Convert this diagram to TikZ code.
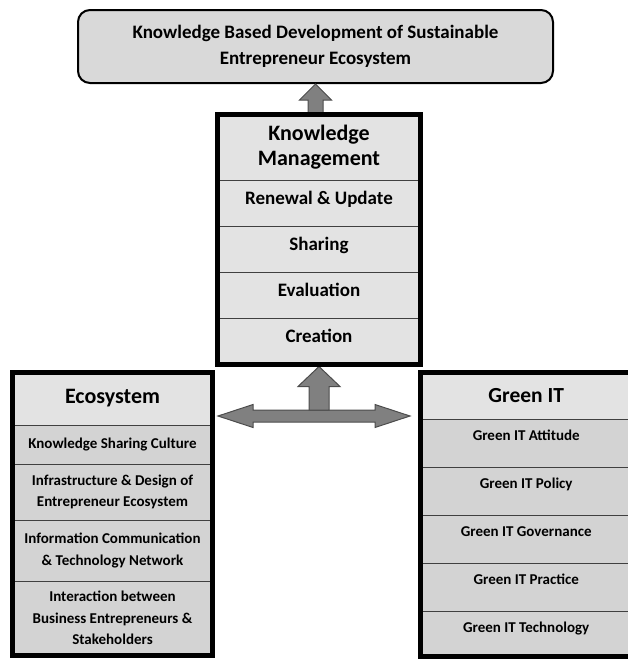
\documentclass[tikz,border=0pt]{standalone}
\usepackage{fontspec}
\setmainfont{Carlito}
\usetikzlibrary{positioning,calc}
\definecolor{boxgray}{HTML}{D9D9D9}
\definecolor{headgray}{HTML}{E3E3E3}
\definecolor{rowgray}{HTML}{D3D3D3}
\definecolor{arrowgray}{HTML}{808080}
\tikzset{
  cell/.style={draw=black!75, line width=0.8pt, inner sep=0pt, outer sep=0pt, align=center},
  kmrow/.style={cell, fill=headgray, minimum width=203pt, text height=24pt, text depth=22pt,
    font=\fontsize{19}{22}\selectfont\bfseries},
  ecorow/.style={cell, fill=rowgray, minimum width=200pt, minimum height=#1,
    font=\fontsize{15}{21.5}\selectfont\bfseries},
  greenrow/.style={cell, fill=rowgray, minimum width=211.5pt, text height=21pt, text depth=#1,
    font=\fontsize{15}{18}\selectfont\bfseries},
  frame/.style={draw=black, line width=5pt},
  blockarrow/.style={draw=black!70, fill=arrowgray, line width=1pt, line join=miter},
}
\begin{document}
\begin{tikzpicture}[x=1pt,y=-1pt,node distance=0pt]
\useasboundingbox (0,0) rectangle (627,659);

% goal on top
\node[draw, line width=2pt, rounded corners=12pt, fill=boxgray, minimum width=475pt, minimum height=73pt,
  align=center, font=\fontsize{19}{26}\selectfont\bfseries] (goal) at (315.5,46.5)
  {Knowledge Based Development of Sustainable\\Entrepreneur Ecosystem};

% knowledge management
\node[cell, fill=headgray, minimum width=203pt, minimum height=65.5pt,
  font=\fontsize{22}{25.5}\selectfont\bfseries] (km) at (319,147.25) {Knowledge\\Management};
\node[kmrow, below=of km] (km1) {Renewal \& Update};
\node[kmrow, below=of km1] (km2) {Sharing};
\node[kmrow, below=of km2] (km3) {Evaluation};
\node[kmrow, below=of km3] (km4) {Creation};

% ecosystem
\node[cell, fill=headgray, minimum width=200pt, minimum height=53pt,
  font=\fontsize{22}{26}\selectfont\bfseries] (eco) at (112.5,398.5) {Ecosystem};
\node[ecorow=39pt, below=of eco] (eco1) {Knowledge Sharing Culture};
\node[ecorow=56pt, below=of eco1] (eco2) {Infrastructure \& Design of\\Entrepreneur Ecosystem};
\node[ecorow=61pt, below=of eco2] (eco3) {Information Communication\\\& Technology Network};
\node[ecorow=74.5pt, below=of eco3] (eco4) {Interaction between\\Business Entrepreneurs \&\\Stakeholders};

% green IT
\node[cell, fill=headgray, minimum width=211.5pt, minimum height=47pt,
  font=\fontsize{21.5}{26}\selectfont\bfseries] (green) at (526.25,395.5) {Green IT};
\node[greenrow=27pt, below=of green] (green1) {Green IT Attitude};
\node[greenrow=27pt, below=of green1] (green2) {Green IT Policy};
\node[greenrow=27pt, below=of green2] (green3) {Green IT Governance};
\node[greenrow=27pt, below=of green3] (green4) {Green IT Practice};
\node[greenrow=24.5pt, below=of green4] (green5) {Green IT Technology};

% arrows
\coordinate (lt) at ($(eco.south east)+(5.5,-9)$);
\coordinate (rt) at ($(green.south west)+(-10.5,-3)$);
\coordinate (ut) at ($(km4.south)+(0,2.5)$);
\coordinate (ub) at ($(ut |- lt)+(0,-6)$);
\coordinate (tt) at (goal.south);
\coordinate (tb) at (km.north -| goal.south);

\draw[blockarrow] ($(tb)+(-7.5,0)$) -- ($(tt)+(-7.5,16)$) -- ($(tt)+(-16,16)$) -- (tt)
  -- ($(tt)+(16,16)$) -- ($(tt)+(7.5,16)$) -- ($(tb)+(7.5,0)$) -- cycle;
\draw[blockarrow] (lt) -- ($(lt)+(35,-11.5)$) -- ($(lt)+(35,-6)$) -- ($(rt)+(-35,-6)$)
  -- ($(rt)+(-35,-11.5)$) -- (rt) -- ($(rt)+(-35,11.5)$) -- ($(rt)+(-35,6)$)
  -- ($(lt)+(35,6)$) -- ($(lt)+(35,11.5)$) -- cycle;
\draw[blockarrow] ($(ub)+(-10,0)$) -- ($(ut)+(-10,20)$) -- ($(ut)+(-21,20)$) -- (ut)
  -- ($(ut)+(21,20)$) -- ($(ut)+(10,20)$) -- ($(ub)+(10,0)$) -- cycle;

% thick frames
\draw[frame] (km.north west) rectangle (km4.south east);
\draw[frame] (eco.north west) rectangle (eco4.south east);
\draw[frame] (green.north west) rectangle (green5.south east);
\end{tikzpicture}
\end{document}
